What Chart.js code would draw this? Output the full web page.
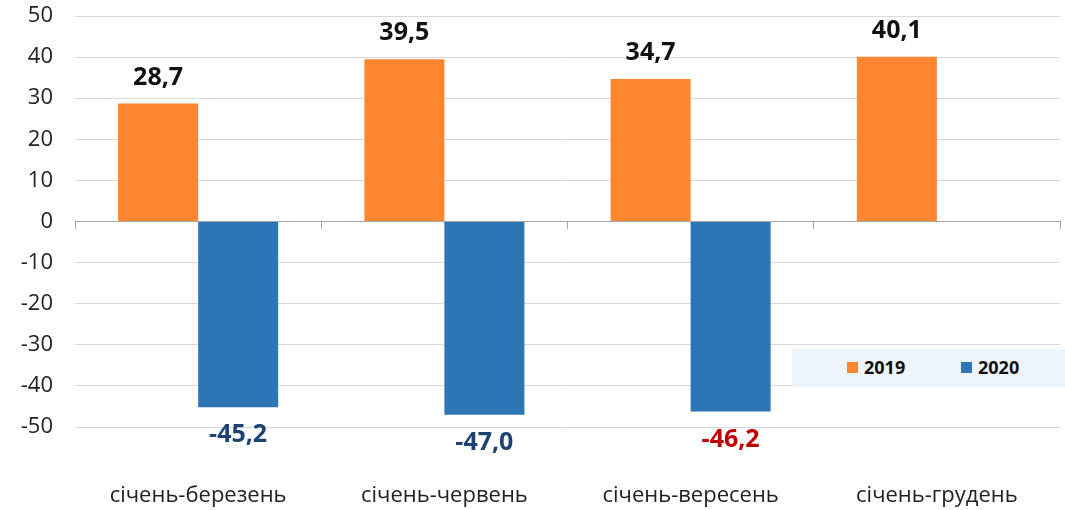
<!DOCTYPE html>
<html>
<head>
<meta charset="utf-8">
<script src="https://cdn.jsdelivr.net/npm/chart.js@4"></script>
<style>
  html, body { margin: 0; padding: 0; background: #fff; }
  #wrap { position: relative; width: 1065px; height: 510px; }
  #legend {
    position: absolute; left: 792px; top: 349px; width: 273px; height: 38px;
    background: #edf4fb; font: bold 18px "Open Sans", "Noto Sans", sans-serif; color: #111;
  }
  #legend span.item { position: absolute; top: 7px; line-height: 22px; }
  #legend i { display: inline-block; width: 11px; height: 11px; margin-right: 6px; vertical-align: 1px; }
</style>
</head>
<body>
<div id="wrap">
  <canvas id="chart" width="1065" height="510"></canvas>
  <div id="legend"></div>
</div>
<script>
// --- дані ---
const categories = ['січень-березень', 'січень-червень', 'січень-вересень', 'січень-грудень'];
const values2019 = [28.7, 39.5, 34.7, 40.1];
const values2020 = [-45.2, -47.0, -46.2, null];
const seriesNames = ['2019', '2020'];

// --- стилі ---
const seriesColors = ['#ff8631', '#2e75b6'];
const labelColors2019 = ['#111', '#111', '#111', '#111'];
const labelColors2020 = ['#1c4373', '#1c4373', '#c00000', '#1c4373'];
const FONT = '"Open Sans", "Noto Sans", sans-serif';

const fmt = v => v.toFixed(1).replace('.', ',');

// підписи значень над/під стовпцями
const valueLabels = {
  id: 'valueLabels',
  afterDatasetsDraw(chart) {
    const ctx = chart.ctx;
    ctx.save();
    ctx.font = 'bold 25px ' + FONT;
    ctx.textAlign = 'center';
    ctx.textBaseline = 'middle';
    chart.data.datasets.forEach((ds, i) => {
      const meta = chart.getDatasetMeta(i);
      meta.data.forEach((bar, j) => {
        const v = ds.data[j];
        if (v === null || v === undefined) return;
        ctx.fillStyle = ds.labelColors[j];
        const y = v >= 0 ? bar.y - 26 : bar.y + 28;
        ctx.fillText(fmt(v), bar.x, y);
      });
    });
    ctx.restore();
  }
};

new Chart(document.getElementById('chart'), {
  type: 'bar',
  data: {
    labels: categories,
    datasets: [
      { label: seriesNames[0], data: values2019, backgroundColor: seriesColors[0], labelColors: labelColors2019 },
      { label: seriesNames[1], data: values2020, backgroundColor: seriesColors[1], labelColors: labelColors2020 }
    ]
  },
  options: {
    responsive: false,
    animation: false,
    layout: { padding: { top: 16, right: 5, left: 0, bottom: 0 } },
    datasets: { bar: { barPercentage: 1, categoryPercentage: 0.65 } },
    plugins: { legend: { display: false }, tooltip: { enabled: false } },
    scales: {
      x: {
        position: 'bottom',
        grid: { display: false, drawTicks: false },
        border: { display: false },
        ticks: { color: '#222', font: { family: FONT, size: 22 }, padding: 56, maxRotation: 0 },
        afterFit(scale) { scale.height = 83; scale.paddingLeft = 0; scale.paddingRight = 0; }
      },
      x0: {
        type: 'category',
        position: { y: 0 },
        offset: true,
        grid: { offset: true, drawOnChartArea: false, drawTicks: true, tickLength: 7, color: '#a6a6a6' },
        border: { display: true, color: '#a6a6a6', width: 1 },
        ticks: { display: false }
      },
      y: {
        min: -50, max: 50,
        ticks: { stepSize: 10, color: '#222', font: { family: FONT, size: 22 }, padding: 22 },
        grid: { color: '#d9d9d9', drawTicks: false },
        border: { display: false },
        afterFit(scale) { scale.width = 75; scale.paddingTop = 0; scale.paddingBottom = 0; }
      }
    }
  },
  plugins: [valueLabels]
});

// легенда
const legend = document.getElementById('legend');
const legendX = [55, 169];
seriesNames.forEach((name, i) => {
  const s = document.createElement('span');
  s.className = 'item';
  s.style.left = legendX[i] + 'px';
  s.innerHTML = '<i style="background:' + seriesColors[i] + '"></i>' + name;
  legend.appendChild(s);
});
</script>
</body>
</html>
